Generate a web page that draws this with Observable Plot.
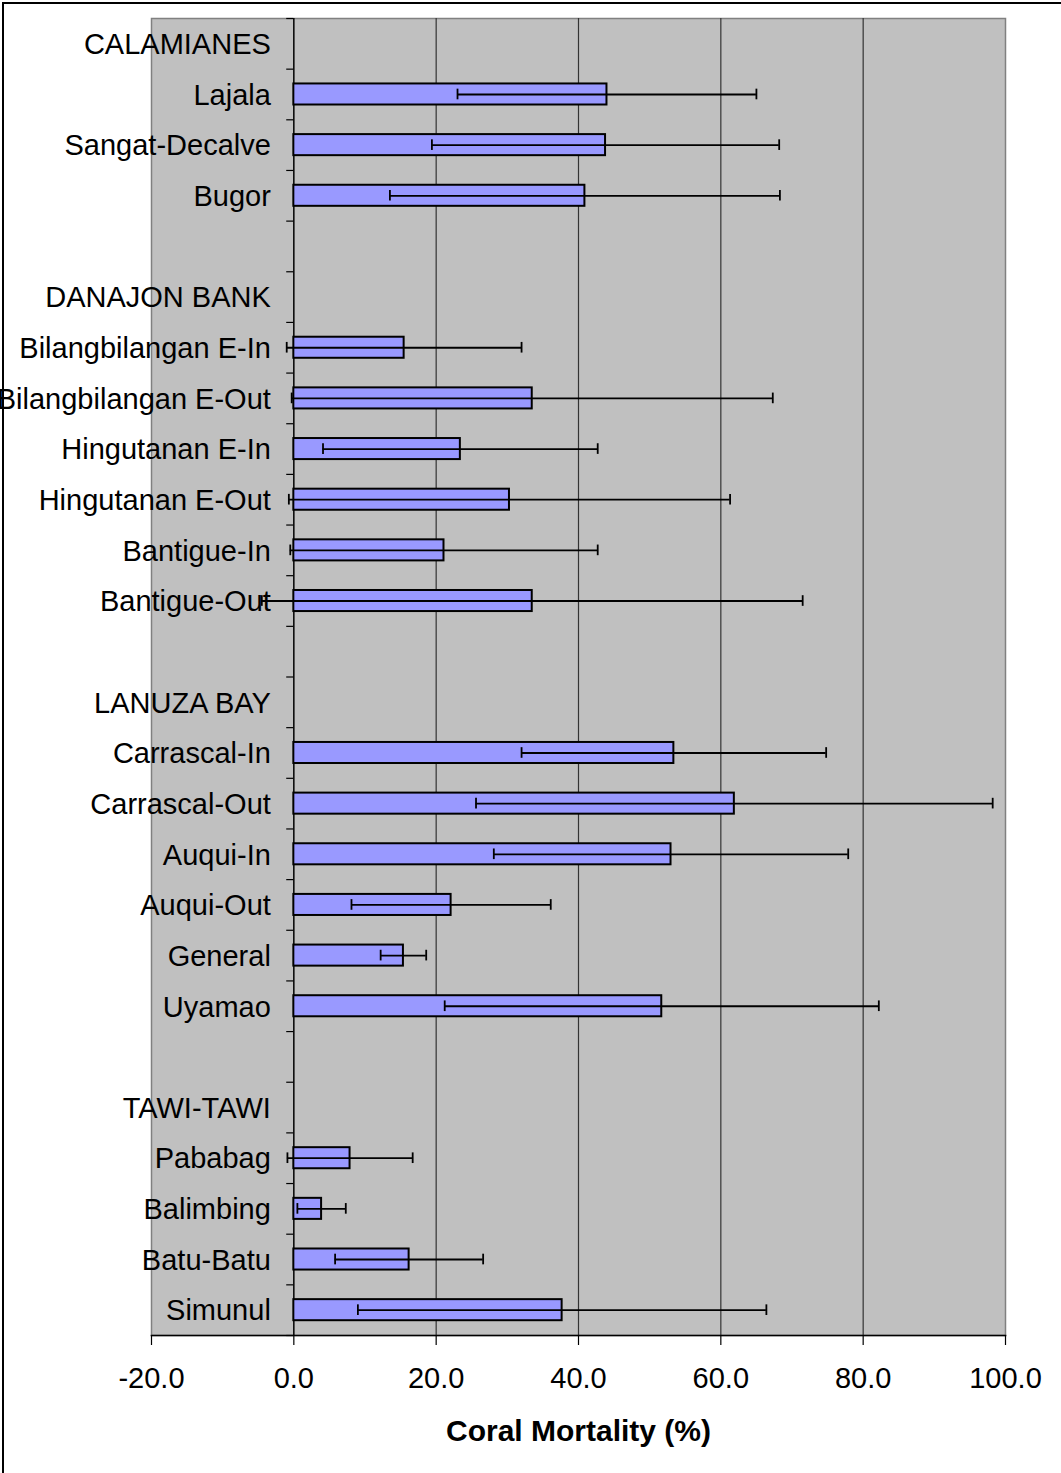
<!DOCTYPE html>
<html><head><meta charset="utf-8">
<script src="https://cdn.jsdelivr.net/npm/d3@7"></script>
<script src="https://cdn.jsdelivr.net/npm/@observablehq/plot@0.6"></script>
<style>
html,body{margin:0;padding:0;background:#fff;overflow:hidden;}
#wrap{position:relative;width:1061px;height:1473px;overflow:hidden;}
#border{position:absolute;left:2px;top:2px;width:1100px;height:1500px;border:2px solid #000;box-sizing:border-box;pointer-events:none;}
</style></head><body><div id="wrap"><div id="chart"></div><div id="border"></div></div>
<script>
const categories = ["CALAMIANES","Lajala","Sangat-Decalve","Bugor"," ",
  "DANAJON BANK","Bilangbilangan E-In","Bilangbilangan E-Out","Hingutanan E-In","Hingutanan E-Out","Bantigue-In","Bantigue-Out","  ",
  "LANUZA BAY","Carrascal-In","Carrascal-Out","Auqui-In","Auqui-Out","General","Uyamao","   ",
  "TAWI-TAWI","Pababag","Balimbing","Batu-Batu","Simunul"];
const mortality = [null,44.0,43.8,40.9,null,
  null,15.5,33.5,23.4,30.3,21.1,33.5,null,
  null,53.4,61.9,53.0,22.1,15.4,51.7,null,
  null,7.9,3.9,16.2,37.7];
const errorSD = [null,21.0,24.4,27.4,null,
  null,16.5,33.8,19.3,31.0,21.6,38.0,null,
  null,21.4,36.3,24.9,14.0,3.2,30.5,null,
  null,8.8,3.4,10.4,28.7];
const xTicks = [-20,0,20,40,60,80,100];
const gridValues = [20,40,60,80];
const xLabel = "Coral Mortality (%)";

const rows = categories.map((c,i)=>({site:c, m:mortality[i], e:errorSD[i]})).filter(d=>d.m!=null);
const step = (1335-18)/categories.length;

const chart = Plot.plot({
  width:1061, height:1473,
  marginLeft:151, marginRight:56, marginTop:18, marginBottom:138,
  style:{fontFamily:"'Liberation Sans', Arial, sans-serif", fontSize:"29px", color:"#000", background:"#fff"},
  x:{domain:[-20,100], axis:null},
  y:{domain:categories, type:"band", padding:0, round:false, axis:null},
  marks:[
    Plot.frame({fill:"#c0c0c0", stroke:"#808080", strokeWidth:1.5}),
    Plot.ruleX(gridValues, {stroke:"#333", strokeWidth:1.2}),
    Plot.ruleX([0], {stroke:"#000", strokeWidth:1.5}),
    Plot.ruleY(categories, {y:d=>d, x1:-1, x2:0, dy:-step/2, stroke:"#000", strokeWidth:1.2}),
    Plot.ruleY(categories.slice(-1), {y:d=>d, x1:-1, x2:0, dy:step/2, stroke:"#000", strokeWidth:1.2}),
    Plot.text(categories, {x:0, y:d=>d, text:d=>d, textAnchor:"end", dx:-23, dy:1, fontSize:29, fill:"#000"}),
    Plot.barX(rows, {x1:0, x2:"m", y:"site", fill:"#9999ff", stroke:"#000", strokeWidth:2, insetTop:14.8, insetBottom:14.8}),
    Plot.ruleY(rows, {y:"site", x1:d=>d.m-d.e, x2:d=>d.m+d.e, stroke:"#000", strokeWidth:1.8}),
    Plot.tickX(rows, {x:d=>d.m-d.e, y:"site", insetTop:20, insetBottom:20, stroke:"#000", strokeWidth:1.8}),
    Plot.tickX(rows, {x:d=>d.m+d.e, y:"site", insetTop:20, insetBottom:20, stroke:"#000", strokeWidth:1.8}),
    Plot.frame({anchor:"bottom", stroke:"#000", strokeWidth:1.5}),
    Plot.axisX({ticks:xTicks, tickFormat:d=>d.toFixed(1), tickSize:10, tickPadding:22, fontSize:29, label:null, stroke:"#000", strokeWidth:1.2}),
    Plot.text([xLabel], {frameAnchor:"bottom", text:d=>d, dy:105, fontWeight:"bold", fontSize:30, fill:"#000"})
  ]
});
document.getElementById("chart").appendChild(chart);
</script>
</body></html>
